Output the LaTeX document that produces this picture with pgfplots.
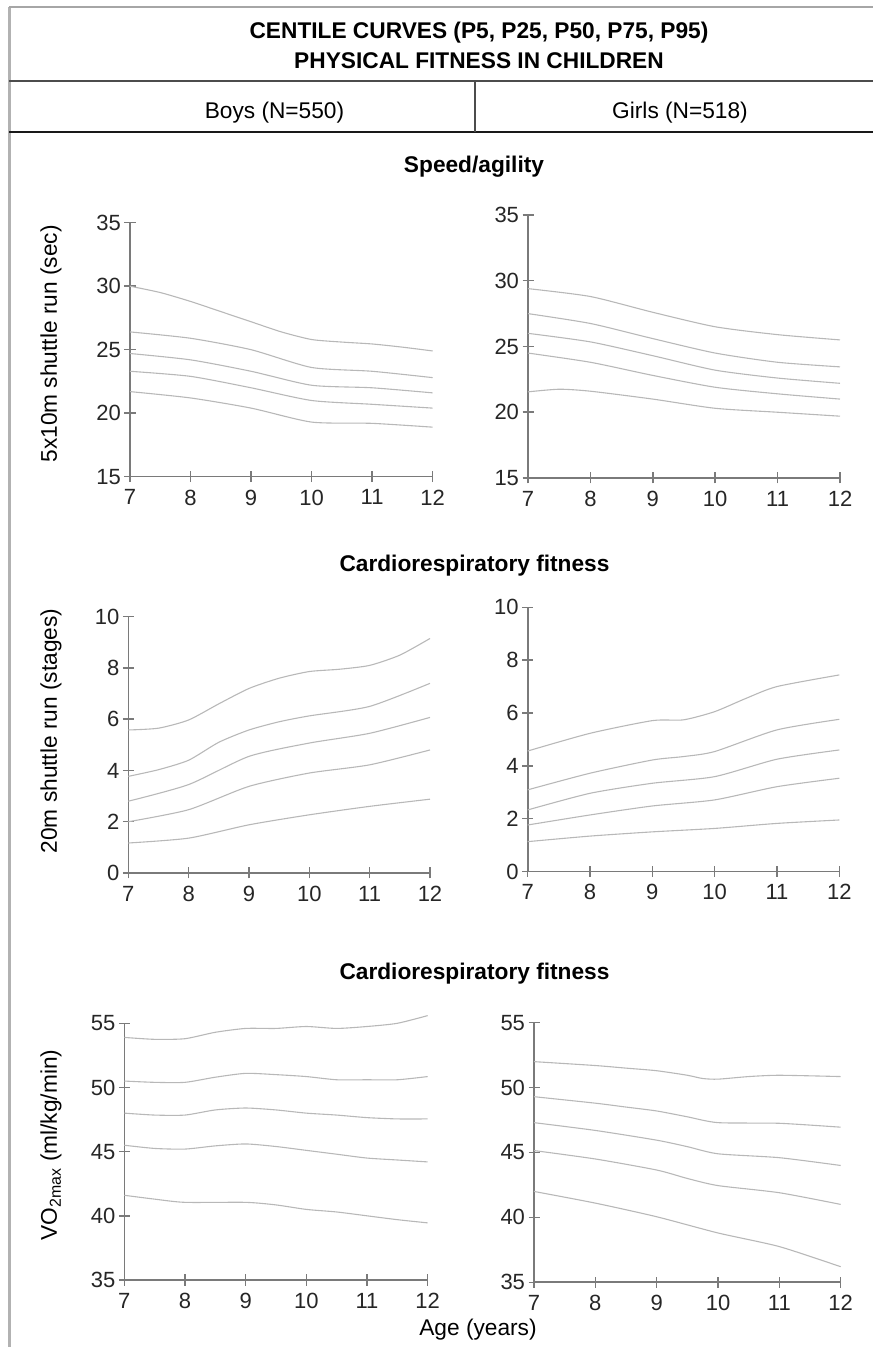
\documentclass[border=0pt]{standalone}
\usepackage{fontspec}
\setmainfont{Liberation Sans}
\usepackage{pgfplots}
\pgfplotsset{compat=1.18}
\definecolor{axisgray}{HTML}{7A7A7A}
\definecolor{curvegray}{HTML}{B8B8B8}
\newcommand{\fs}{\fontsize{22.7}{27}\selectfont}
\newcommand{\tfs}{\fontsize{22}{26}\selectfont}
\pgfplotsset{centile/.style={
  scale only axis, axis lines=left,
  axis line style={axisgray, line width=1.6pt, -},
  tick style={axisgray, line width=1.5pt}, major tick length=11pt, tick align=center,
  xmin=7, xmax=12, xtick={7,8,9,10,11,12}, enlargelimits=false,
  tick label style={font=\tfs, text=black!85},
  /pgf/number format/assume math mode=true,
  every axis plot post/.append style={curvegray, line width=1.1pt, smooth, tension=0.4, mark=none},
  anchor=south west, clip=false,
  xticklabel style={yshift=-4pt},
}}
\begin{document}
\begin{tikzpicture}[x=1pt,y=1pt]
\path[use as bounding box] (0pt,0pt) rectangle (873pt,1347pt);
% frame
\draw[black!30, line width=3pt] (9pt,0pt) -- (9pt,1340pt);
\draw[black!35, line width=2pt] (9pt,1340pt) -- (873pt,1340pt);
\draw[black!70, line width=2pt] (9pt,1266pt) -- (873pt,1266pt);
\draw[black!90, line width=2pt] (9pt,1215pt) -- (873pt,1215pt);
\draw[black!70, line width=1.5pt] (475pt,1266pt) -- (475pt,1215pt);
\node[anchor=base, font=\fs\bfseries] at (479pt,1308pt) {CENTILE CURVES (P5, P25, P50, P75, P95)};
\node[anchor=base, font=\fs\bfseries] at (479pt,1278pt) {PHYSICAL FITNESS IN CHILDREN};
\node[anchor=base, font=\fs] at (274.5pt,1228pt) {Boys (N=550)};
\node[anchor=base, font=\fs] at (680pt,1228pt) {Girls (N=518)};
\node[anchor=base, font=\fs\bfseries] at (474pt,1174pt) {Speed/agility};
\node[anchor=base, font=\fs\bfseries] at (474.5pt,775pt) {Cardiorespiratory fitness};
\node[anchor=base, font=\fs\bfseries] at (474.5pt,367pt) {Cardiorespiratory fitness};
\node[anchor=base, font=\fs] at (478pt,12pt) {Age (years)};
\node[rotate=90, font=\fs] at (51pt,1003pt) {5x10m shuttle run (sec)};
\node[rotate=90, font=\fs] at (51pt,616pt) {20m shuttle run (stages)};
\node[rotate=90, font=\fs] at (51pt,202pt) {VO\textsubscript{2max} (ml/kg/min)};

% ---------- Boys speed
\begin{axis}[centile, at={(130pt,870.3pt)}, width=302.7pt, height=254pt,
  ymin=15, ymax=35, ytick={15,20,25,30,35}]
\addplot coordinates {(7,30.0) (7.5,29.5) (8,28.8) (8.5,28.0) (9,27.2) (9.5,26.4) (10,25.8) (10.5,25.6) (11,25.45) (11.5,25.2) (12,24.9)};
\addplot coordinates {(7,26.4) (8,25.9) (9,25.0) (10,23.6) (11,23.3) (12,22.8)};
\addplot coordinates {(7,24.7) (8,24.2) (9,23.3) (10,22.2) (11,22.0) (12,21.6)};
\addplot coordinates {(7,23.3) (8,22.9) (9,22.0) (10,21.0) (11,20.7) (12,20.4)};
\addplot coordinates {(7,21.7) (8,21.2) (9,20.4) (10,19.3) (11,19.2) (12,18.9)};
\end{axis}

% ---------- Girls speed
\begin{axis}[centile, at={(528pt,869pt)}, width=312pt, height=263pt,
  ymin=15, ymax=35, ytick={15,20,25,30,35}]
\addplot coordinates {(7,29.4) (8,28.8) (9,27.6) (10,26.5) (11,25.9) (12,25.5)};
\addplot coordinates {(7,27.5) (8,26.75) (9,25.6) (10,24.5) (11,23.8) (12,23.45)};
\addplot coordinates {(7,26.0) (8,25.35) (9,24.3) (10,23.2) (11,22.6) (12,22.2)};
\addplot coordinates {(7,24.5) (8,23.8) (9,22.8) (10,21.9) (11,21.4) (12,21.0)};
\addplot coordinates {(7,21.55) (7.5,21.75) (8,21.6) (9,21.0) (10,20.3) (11,20.0) (12,19.7)};
\end{axis}

% ---------- Boys 20m shuttle
\begin{axis}[centile, at={(128.3pt,474pt)}, width=301.7pt, height=256.3pt,
  ymin=0, ymax=10, ytick={0,2,4,6,8,10}]
\addplot coordinates {(7,5.58) (7.5,5.65) (8,5.97) (8.5,6.6) (9,7.2) (9.5,7.6) (10,7.86) (10.5,7.95) (11,8.1) (11.5,8.5) (12,9.15)};
\addplot coordinates {(7,3.77) (7.5,4.03) (8,4.4) (8.5,5.1) (9,5.58) (9.5,5.9) (10,6.13) (11,6.5) (12,7.4)};
\addplot coordinates {(7,2.8) (8,3.45) (9,4.55) (10,5.07) (11,5.45) (12,6.07)};
\addplot coordinates {(7,2.0) (8,2.47) (9,3.38) (10,3.9) (11,4.22) (12,4.8)};
\addplot coordinates {(7,1.17) (8,1.36) (9,1.88) (10,2.27) (11,2.6) (12,2.88)};
\end{axis}

% ---------- Girls 20m shuttle
\begin{axis}[centile, at={(527.7pt,475.5pt)}, width=311.6pt, height=264.2pt,
  ymin=0, ymax=10, ytick={0,2,4,6,8,10}]
\addplot coordinates {(7,4.56) (8,5.23) (9,5.71) (9.5,5.74) (10,6.05) (10.5,6.55) (11,7.0) (12,7.44)};
\addplot coordinates {(7,3.09) (8,3.72) (9,4.22) (9.5,4.35) (10,4.54) (11,5.36) (12,5.76)};
\addplot coordinates {(7,2.33) (8,2.96) (9,3.34) (10,3.59) (11,4.25) (12,4.6)};
\addplot coordinates {(7,1.76) (8,2.14) (9,2.48) (10,2.71) (11,3.21) (12,3.53)};
\addplot coordinates {(7,1.13) (8,1.34) (9,1.5) (10,1.63) (11,1.82) (12,1.95)};
\end{axis}

% ---------- Boys VO2max
\begin{axis}[centile, at={(124.3pt,67pt)}, width=303.4pt, height=256.7pt,
  ymin=35, ymax=55, ytick={35,40,45,50,55}]
\addplot coordinates {(7,53.9) (7.5,53.75) (8,53.8) (8.5,54.3) (9,54.6) (9.5,54.6) (10,54.75) (10.5,54.6) (11,54.75) (11.5,55.0) (12,55.6)};
\addplot coordinates {(7,50.5) (7.5,50.4) (8,50.4) (8.5,50.8) (9,51.1) (9.5,51.0) (10,50.85) (10.5,50.6) (11,50.6) (11.5,50.6) (12,50.85)};
\addplot coordinates {(7,48.0) (7.5,47.85) (8,47.85) (8.5,48.25) (9,48.4) (9.5,48.25) (10,48.0) (10.5,47.85) (11,47.65) (11.5,47.55) (12,47.55)};
\addplot coordinates {(7,45.5) (7.5,45.25) (8,45.2) (8.5,45.45) (9,45.6) (9.5,45.4) (10,45.1) (10.5,44.8) (11,44.5) (11.5,44.35) (12,44.2)};
\addplot coordinates {(7,41.6) (7.5,41.3) (8,41.05) (9,41.05) (9.5,40.85) (10,40.5) (10.5,40.3) (11,40.0) (11.5,39.7) (12,39.45)};
\end{axis}

% ---------- Girls VO2max
\begin{axis}[centile, at={(534pt,64.7pt)}, width=306.7pt, height=259.6pt,
  ymin=35, ymax=55, ytick={35,40,45,50,55}]
\addplot coordinates {(7,52.0) (8,51.7) (8.5,51.5) (9,51.3) (9.5,50.95) (9.75,50.7) (10,50.65) (10.5,50.85) (11,50.95) (12,50.85)};
\addplot coordinates {(7,49.3) (8,48.8) (8.5,48.5) (9,48.2) (9.5,47.75) (10,47.3) (11,47.25) (12,46.95)};
\addplot coordinates {(7,47.3) (8,46.7) (9,45.95) (9.5,45.45) (10,44.9) (11,44.6) (12,44.0)};
\addplot coordinates {(7,45.15) (8,44.5) (9,43.65) (9.5,43.0) (10,42.45) (11,41.9) (12,41.0)};
\addplot coordinates {(7,42.0) (8,41.1) (9,40.05) (10,38.8) (11,37.75) (12,36.2)};
\end{axis}
\end{tikzpicture}
\end{document}
